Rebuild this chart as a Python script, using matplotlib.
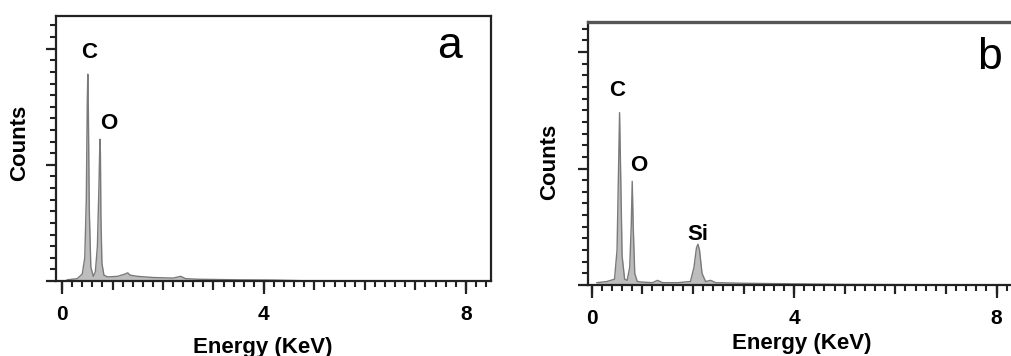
import matplotlib
matplotlib.use("Agg")
import matplotlib.pyplot as plt
from matplotlib.ticker import MultipleLocator, NullFormatter

plt.rcParams['font.family'] = ['Liberation Sans', 'DejaVu Sans']

# spectrum a (energy in keV, counts in arbitrary units)
a_energy = [0.10, 0.30, 0.40, 0.45, 0.48, 0.50, 0.51, 0.52, 0.54, 0.57, 0.62, 0.66,
            0.70, 0.73, 0.75, 0.76, 0.77, 0.79, 0.83, 0.90, 1.10, 1.25, 1.30, 1.35,
            1.50, 1.80, 2.20, 2.35, 2.45, 2.70, 3.50, 4.20, 5.00, 8.50]
a_counts = [0.10, 0.20, 0.60, 2.00, 7.00, 15.5, 17.8, 15.0, 6.00, 1.20, 0.40, 0.80,
            3.00, 8.00, 12.2, 11.0, 5.50, 1.50, 0.50, 0.35, 0.40, 0.60, 0.70, 0.50,
            0.40, 0.30, 0.25, 0.40, 0.20, 0.15, 0.10, 0.08, 0.00, 0.00]
a_peaks = ["C", "O"]
a_peak_x = [0.53, 0.93]
a_peak_y = [19.7, 13.6]

# spectrum b
b_energy = [0.10, 0.30, 0.45, 0.50, 0.53, 0.55, 0.57, 0.60, 0.65, 0.70, 0.75, 0.78,
            0.80, 0.82, 0.85, 0.90, 1.00, 1.20, 1.30, 1.40, 1.70, 1.95, 2.02, 2.07,
            2.10, 2.13, 2.18, 2.25, 2.35, 2.45, 3.00, 4.00, 5.00, 8.50]
b_counts = [0.20, 0.30, 0.50, 3.00, 10.0, 14.8, 10.0, 2.50, 0.50, 0.40, 1.50, 5.00,
            8.90, 5.00, 1.00, 0.30, 0.25, 0.20, 0.40, 0.20, 0.20, 0.30, 1.50, 3.20,
            3.50, 3.00, 1.00, 0.30, 0.40, 0.20, 0.15, 0.10, 0.05, 0.00]
b_peaks = ["C", "O", "Si"]
b_peak_x = [0.50, 0.92, 2.10]
b_peak_y = [16.7, 10.3, 4.3]

x_labels = [0, 4, 8]

fig = plt.figure(figsize=(10.11, 3.56), dpi=100)


def draw_panel(rect, energy, counts, names, px, py, letter, letter_xy, xlim, ylim):
    ax = fig.add_axes(rect)
    ax.fill_between(energy, counts, 0, color="#bdbdbd", lw=0)
    ax.plot(energy, counts, color="#7a7a7a", lw=1.0)
    ax.set_xlim(*xlim)
    ax.set_ylim(*ylim)

    for s in ax.spines.values():
        s.set_linewidth(1.6)
        s.set_color("#222222")

    # x ticks: 0.2 minor, 1 keV medium, labelled 0/4/8 long
    ax.xaxis.set_major_locator(MultipleLocator(1))
    ax.xaxis.set_minor_locator(MultipleLocator(0.2))
    ax.xaxis.set_major_formatter(NullFormatter())
    ax.tick_params(axis="x", which="major", direction="out", length=6.5, width=1.6, color="#222222")
    ax.tick_params(axis="x", which="minor", direction="out", length=4.5, width=1.5, color="#222222")
    sec = ax.secondary_xaxis("bottom")
    sec.set_xticks(x_labels)
    sec.set_xticklabels([str(v) for v in x_labels], fontsize=15, fontweight="bold")
    sec.tick_params(direction="out", length=9, width=1.6, pad=8, color="#222222")
    sec.spines["bottom"].set_visible(False)

    # y ticks without labels
    ax.yaxis.set_major_locator(MultipleLocator(10))
    ax.yaxis.set_minor_locator(MultipleLocator(1))
    ax.yaxis.set_major_formatter(NullFormatter())
    ax.tick_params(axis="y", which="major", direction="out", length=7.5, width=1.6, color="#222222")
    ax.tick_params(axis="y", which="minor", direction="out", length=4.5, width=1.5, color="#222222")

    for n, x, y in zip(names, px, py):
        ax.text(x, y, n, ha="center", va="center", fontsize=16, fontweight="bold")
    ax.text(letter_xy[0], letter_xy[1], letter, ha="center", va="center", fontsize=32)
    return ax


ax_a = draw_panel([0.0554, 0.2107, 0.4303, 0.744], a_energy, a_counts, a_peaks,
                  a_peak_x, a_peak_y, "a", (7.68, 20.2), (-0.12, 8.5), (0, 22.8))
ax_b = draw_panel([0.5813, 0.1994, 0.4294, 0.7395], b_energy, b_counts, b_peaks,
                  b_peak_x, b_peak_y, "b", (7.87, 19.5), (-0.08, 8.5), (0, 22.6))
ax_b.spines["top"].set_linewidth(2.4)
ax_b.spines["top"].set_color("#555555")

fig.text(20 / 1011, 1 - 143 / 356, "Counts", rotation=90, ha="center", va="center",
         fontsize=16, fontweight="bold")
fig.text(263 / 1011, 1 - 347 / 356, "Energy (KeV)", ha="center", va="center",
         fontsize=16, fontweight="bold")
fig.text(550 / 1011, 1 - 162 / 356, "Counts", rotation=90, ha="center", va="center",
         fontsize=16, fontweight="bold")
fig.text(802 / 1011, 1 - 343 / 356, "Energy (KeV)", ha="center", va="center",
         fontsize=16, fontweight="bold")

fig.savefig("out.png", dpi=100)
